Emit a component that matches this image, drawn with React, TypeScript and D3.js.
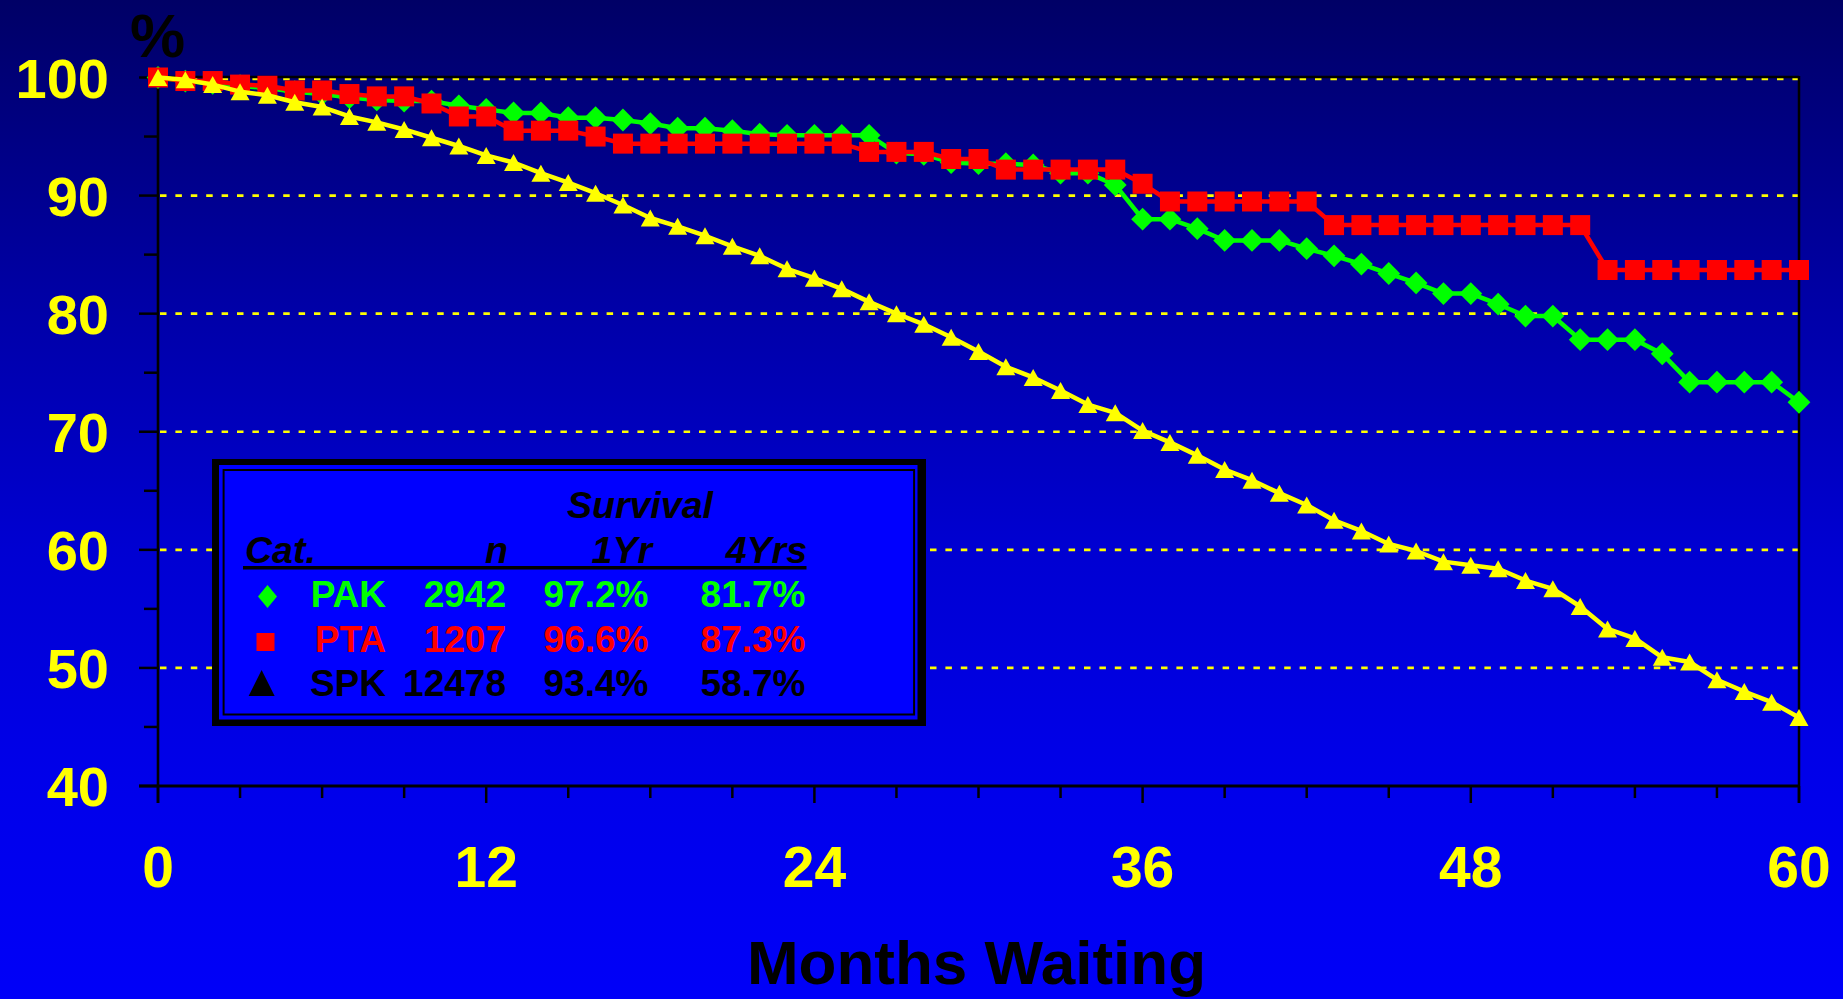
import React, { useEffect } from "react";
import * as d3 from "d3";

const WIDTH = 1843;
const HEIGHT = 999;
const PLOT = { left: 158, right: 1799, top: 77.5, bottom: 786 };
const FONT = "'Liberation Sans', Arial, Helvetica, sans-serif";

// months on the x axis
const MONTHS = [
  0, 1, 2, 3, 4, 5, 6, 7, 8, 9, 10, 11, 12, 13, 14, 15, 16, 17, 18, 19, 20,
  21, 22, 23, 24, 25, 26, 27, 28, 29, 30, 31, 32, 33, 34, 35, 36, 37, 38, 39,
  40, 41, 42, 43, 44, 45, 46, 47, 48, 49, 50, 51, 52, 53, 54, 55, 56, 57, 58,
  59, 60
];

// % survival
const PAK = [
  100, 99.7, 99.5, 99.3, 99.1, 98.8, 98.6, 98.3, 98.1, 98.0, 98.0, 97.6, 97.3,
  97.0, 97.0, 96.6, 96.6, 96.4, 96.1, 95.7, 95.7, 95.5, 95.2, 95.1, 95.1, 95.1,
  95.1, 93.6, 93.5, 92.8, 92.7, 92.7, 92.6, 91.9, 91.9, 90.9, 88.0, 88.0, 87.2,
  86.2, 86.2, 86.2, 85.5, 84.9, 84.2, 83.4, 82.6, 81.7, 81.7, 80.8, 79.8, 79.8,
  77.8, 77.8, 77.8, 76.6, 74.2, 74.2, 74.2, 74.2, 72.5
];
const PTA = [
  100, 99.7, 99.7, 99.4, 99.3, 98.9, 98.9, 98.6, 98.4, 98.4, 97.8, 96.7, 96.7,
  95.5, 95.5, 95.5, 95.0, 94.4, 94.4, 94.4, 94.4, 94.4, 94.4, 94.4, 94.4, 94.4,
  93.7, 93.7, 93.7, 93.1, 93.1, 92.2, 92.2, 92.2, 92.2, 92.2, 91.0, 89.5, 89.5,
  89.5, 89.5, 89.5, 89.5, 87.5, 87.5, 87.5, 87.5, 87.5, 87.5, 87.5, 87.5, 87.5,
  87.5, 83.7, 83.7, 83.7, 83.7, 83.7, 83.7, 83.7, 83.7
];
const SPK = [
  100, 99.8, 99.4, 98.8, 98.5, 97.9, 97.5, 96.7, 96.2, 95.6, 94.9, 94.2, 93.4,
  92.8, 91.9, 91.1, 90.2, 89.2, 88.1, 87.4, 86.6, 85.7, 84.9, 83.8, 83.0, 82.1,
  81.0, 80.0, 79.1, 78.0, 76.8, 75.5, 74.6, 73.5, 72.3, 71.6, 70.1, 69.1, 68.0,
  66.8, 65.9, 64.8, 63.8, 62.5, 61.6, 60.5, 59.9, 59.0, 58.7, 58.4, 57.4, 56.7,
  55.2, 53.3, 52.5, 50.9, 50.5, 49.0, 48.0, 47.1, 45.8
];

const Y_LABELS = [40, 50, 60, 70, 80, 90, 100];
const Y_GRID = [50, 60, 70, 80, 90, 100];
const Y_MINOR = [45, 55, 65, 75, 85, 95];
const X_LABELS = [0, 12, 24, 36, 48, 60];
const X_MINOR = [3, 6, 9, 15, 18, 21, 27, 30, 33, 39, 42, 45, 51, 54, 57];

const LEGEND_HEAD = ["Cat.", "n", "1Yr", "4Yrs"];
const LEGEND_CATS = ["PAK", "PTA", "SPK"];
const LEGEND_N = ["2942", "1207", "12478"];
const LEGEND_1YR = ["97.2%", "96.6%", "93.4%"];
const LEGEND_4YR = ["81.7%", "87.3%", "58.7%"];

const GREEN = "#00ff00";
const RED = "#ff0000";
const YELLOW = "#ffff00";

const x = d3.scaleLinear().domain([0, 60]).range([PLOT.left, PLOT.right]);
const y = d3.scaleLinear().domain([40, 100]).range([PLOT.bottom, PLOT.top]);

const diamond = d3.symbol(d3.symbolSquare, 260)();
const square = d3.symbol(d3.symbolSquare, 400)();
const triangle = "M0,-8.5L9.5,8.5L-9.5,8.5Z";

const series = [
  { name: "PAK", values: PAK, color: GREEN, marker: diamond, rotate: 45 },
  { name: "PTA", values: PTA, color: RED, marker: square, rotate: 0 },
  { name: "SPK", values: SPK, color: YELLOW, marker: triangle, rotate: 0 }
];

export default function App() {
  useEffect(() => {
    document.body.style.margin = "0";
  }, []);

  const line = d3
    .line<number>()
    .x((d, i) => x(MONTHS[i]))
    .y(d => y(d));

  const rowColors = [GREEN, RED, "#000000"];
  const rowBase = [607, 651.5, 696];

  return (
    <svg
      width={WIDTH}
      height={HEIGHT}
      style={{ display: "block", position: "absolute", left: 0, top: 0 }}
      fontFamily={FONT}
      fontWeight="bold"
    >
      <defs>
        <linearGradient id="bg" x1="0" y1="0" x2="0" y2="1">
          <stop offset="0" stopColor="#000066" />
          <stop offset="0.3" stopColor="#0000a6" />
          <stop offset="0.55" stopColor="#0000d2" />
          <stop offset="0.78" stopColor="#0000ea" />
          <stop offset="1" stopColor="#0000f8" />
        </linearGradient>
      </defs>
      <rect width={WIDTH} height={HEIGHT} fill="url(#bg)" />

      {/* grid */}
      {Y_GRID.map(v => (
        <line
          key={"g" + v}
          x1={PLOT.left + 2}
          x2={PLOT.right}
          y1={y(v) + (v === 100 ? 1.5 : 0)}
          y2={y(v) + (v === 100 ? 1.5 : 0)}
          stroke={YELLOW}
          strokeWidth={2.6}
          strokeDasharray="6.5 8.9"
        />
      ))}

      {/* frame top and right */}
      <line x1={PLOT.left} x2={PLOT.right} y1={y(100) - 0.5} y2={y(100) - 0.5} stroke="#000" strokeWidth={2.5} />
      <line x1={PLOT.right} x2={PLOT.right} y1={y(100) - 1.5} y2={PLOT.bottom + 17} stroke="#000" strokeWidth={2.5} />

      {/* y axis */}
      <line x1={PLOT.left} x2={PLOT.left} y1={y(100) - 1.5} y2={PLOT.bottom + 17} stroke="#000" strokeWidth={2.6} />
      {Y_LABELS.map(v => (
        <line key={"yt" + v} x1={PLOT.left - 19} x2={PLOT.left} y1={y(v)} y2={y(v)} stroke="#000" strokeWidth={2.5} />
      ))}
      {Y_MINOR.map(v => (
        <line key={"ym" + v} x1={PLOT.left - 14} x2={PLOT.left} y1={y(v)} y2={y(v)} stroke="#000" strokeWidth={2.5} />
      ))}
      {Y_LABELS.map(v => (
        <text key={"yl" + v} x={109} y={y(v) + 20} fill={YELLOW} fontSize={56} textAnchor="end">
          {v}
        </text>
      ))}
      <text x={130} y={57} fontSize={62} fill="#000">%</text>

      {/* x axis */}
      <line x1={PLOT.left - 19} x2={PLOT.right} y1={PLOT.bottom} y2={PLOT.bottom} stroke="#000" strokeWidth={3} />
      {X_LABELS.map(v => (
        <line key={"xt" + v} x1={x(v)} x2={x(v)} y1={PLOT.bottom} y2={PLOT.bottom + 17} stroke="#000" strokeWidth={2.5} />
      ))}
      {X_MINOR.map(v => (
        <line key={"xm" + v} x1={x(v)} x2={x(v)} y1={PLOT.bottom} y2={PLOT.bottom + 12} stroke="#000" strokeWidth={2.5} />
      ))}
      {X_LABELS.map(v => (
        <text key={"xl" + v} x={x(v)} y={887} fill={YELLOW} fontSize={57} textAnchor="middle">
          {v}
        </text>
      ))}
      <text x={(PLOT.left + PLOT.right) / 2 - 2} y={984} fontSize={62} fill="#000" textAnchor="middle">
        Months Waiting
      </text>

      {/* series */}
      {series.map(s => (
        <g key={s.name}>
          <path d={line(s.values) || ""} fill="none" stroke={s.color} strokeWidth={4.5} strokeLinejoin="round" />
          {s.values.map((v, i) => (
            <path
              key={i}
              d={s.marker || ""}
              fill={s.color}
              transform={`translate(${x(MONTHS[i])},${y(v)}) rotate(${s.rotate})`}
            />
          ))}
        </g>
      ))}

      {/* legend table */}
      <g>
        <rect x={212} y={459} width={714} height={267} fill="#000" />
        <rect x={219} y={465} width={698.5} height={254.5} fill="#0000ff" />
        <rect x={223.6} y={470} width={690.5} height={244.5} fill="none" stroke="#000" strokeWidth={2} />
        <text x={567} y={518} fontSize={37.5} fontStyle="italic" fill="#000">Survival</text>
        <text x={245} y={563} fontSize={37.5} fontStyle="italic" fill="#000">{LEGEND_HEAD[0]}</text>
        <text x={508} y={563} fontSize={37.5} fontStyle="italic" fill="#000" textAnchor="end">{LEGEND_HEAD[1]}</text>
        <text x={652} y={563} fontSize={37.5} fontStyle="italic" fill="#000" textAnchor="end">{LEGEND_HEAD[2]}</text>
        <text x={807} y={563} fontSize={37.5} fontStyle="italic" fill="#000" textAnchor="end">{LEGEND_HEAD[3]}</text>
        <line x1={243} x2={806.5} y1={567.8} y2={567.8} stroke="#000" strokeWidth={3.5} />
        {LEGEND_CATS.map((c, i) => (
          <g key={c} fill={rowColors[i]} fontSize={37}>
            <text x={386} y={rowBase[i]} textAnchor="end">{c}</text>
            <text x={506} y={rowBase[i]} textAnchor="end">{LEGEND_N[i]}</text>
            <text x={648.5} y={rowBase[i]} textAnchor="end">{LEGEND_1YR[i]}</text>
            <text x={805.5} y={rowBase[i]} textAnchor="end">{LEGEND_4YR[i]}</text>
          </g>
        ))}
        <path d="M0,-11.5L9.5,0L0,11.5L-9.5,0Z" fill={GREEN} transform="translate(267.5,596.5)" />
        <rect x={256.5} y={633} width={18} height={18} fill={RED} />
        <path d="M0,-13L13,13L-13,13Z" fill="#000" transform="translate(261.6,683)" />
      </g>
    </svg>
  );
}
